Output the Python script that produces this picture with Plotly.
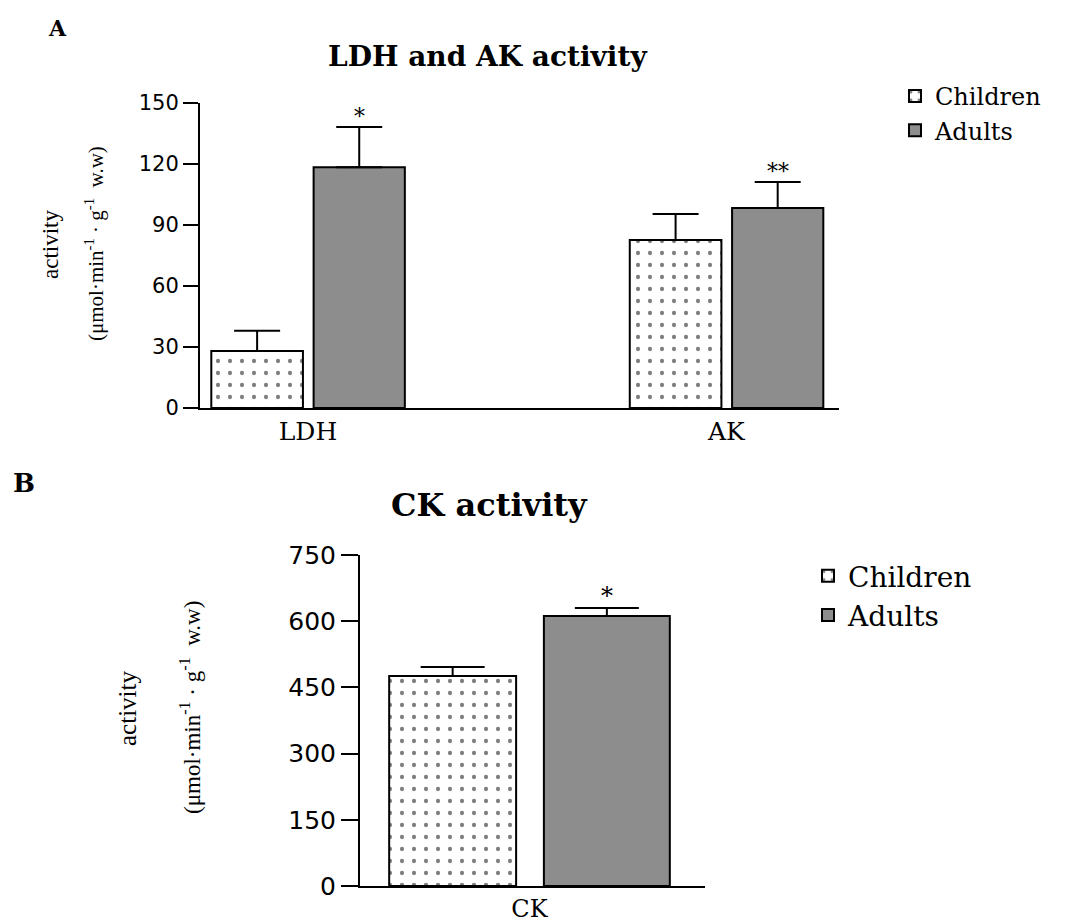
import plotly.graph_objects as go

# ---------------- data ----------------
cats_a = ["LDH", "AK"]
children_a = [28.0, 82.6]
children_a_err = [10.0, 12.8]
adults_a = [118.4, 98.4]
adults_a_err = [19.8, 12.8]
signif_a = ["*", "**"]

cats_b = ["CK"]
children_b = [476.0]
children_b_err = [20.0]
adults_b = [612.0]
adults_b_err = [18.0]
signif_b = ["*"]

yticks_a = [0, 30, 60, 90, 120, 150]
yticks_b = [0, 150, 300, 450, 600, 750]

series_names = ["Children", "Adults"]

# ---------------- style ----------------
W, H = 1070, 924
SERIF = "DejaVu Serif"
SANS = "DejaVu Sans"
GRAY = "#8d8d8d"

def px(x):
    return x / W

def py(y):
    return 1 - y / H

# bar geometry (category units)
a_off = [-0.231, 0.0135]
a_wid = [0.219, 0.218]
b_off = [-0.351, 0.036]
b_wid = [0.3175, 0.315]

fig = go.Figure()

children_style = dict(
    color="white",
    line=dict(color="black", width=2),
    pattern=dict(shape=".", size=12, solidity=0.1, fgcolor="black", bgcolor="white", fillmode="overlay"),
)
adults_style = dict(color=GRAY, line=dict(color="black", width=2))

# Panel A
fig.add_trace(go.Bar(
    x=cats_a, y=children_a, name=series_names[0], marker=children_style,
    offset=a_off[0], width=a_wid[0],
    error_y=dict(type="data", array=children_a_err, arrayminus=[0] * len(cats_a), symmetric=False,
                 color="black", thickness=2, width=23),
    xaxis="x", yaxis="y", legend="legend",
))
fig.add_trace(go.Bar(
    x=cats_a, y=adults_a, name=series_names[1], marker=adults_style,
    offset=a_off[1], width=a_wid[1],
    error_y=dict(type="data", array=adults_a_err, arrayminus=[0] * len(cats_a), symmetric=False,
                 color="black", thickness=2, width=23),
    xaxis="x", yaxis="y", legend="legend",
))

# Panel B
fig.add_trace(go.Bar(
    x=cats_b, y=children_b, name=series_names[0], marker=children_style,
    offset=b_off[0], width=b_wid[0],
    error_y=dict(type="data", array=children_b_err, arrayminus=[0] * len(cats_b), symmetric=False,
                 color="black", thickness=2, width=32),
    xaxis="x2", yaxis="y2", legend="legend2",
))
fig.add_trace(go.Bar(
    x=cats_b, y=adults_b, name=series_names[1], marker=adults_style,
    offset=b_off[1], width=b_wid[1],
    error_y=dict(type="data", array=adults_b_err, arrayminus=[0] * len(cats_b), symmetric=False,
                 color="black", thickness=2, width=32),
    xaxis="x2", yaxis="y2", legend="legend2",
))

annotations = []
# significance marks
for i, c in enumerate(cats_a):
    annotations.append(dict(
        x=i + a_off[1] + a_wid[1] / 2, y=adults_a[i] + adults_a_err[i], xref="x", yref="y",
        text=signif_a[i], showarrow=False, xanchor="center", yanchor="bottom", yshift=-4,
        font=dict(family=SERIF, size=22, color="black")))
for i, c in enumerate(cats_b):
    annotations.append(dict(
        x=i + b_off[1] + b_wid[1] / 2, y=adults_b[i] + adults_b_err[i], xref="x2", yref="y2",
        text=signif_b[i], showarrow=False, xanchor="center", yanchor="bottom", yshift=-4,
        font=dict(family=SERIF, size=24, color="black")))

def label(x, y, text, size, family=SERIF, angle=0):
    return dict(x=px(x), y=py(y), xref="paper", yref="paper", text=text, showarrow=False,
                xanchor="center", yanchor="middle", textangle=angle,
                font=dict(family=family, size=size, color="black"))

# panel letters and titles
annotations += [
    label(57, 28, "<b>A</b>", 22),
    label(24, 483, "<b>B</b>", 26),
    label(487, 57, "<b>LDH and AK activity</b>", 28),
    label(489, 505, "<b>CK activity</b>", 32),
]

# y-axis titles (two lines, rotated)
unit_text = "(μmol·min<sup>-1</sup> · g<sup>-1</sup>  w.w)"
annotations += [
    label(50, 245, "activity", 23, "Liberation Serif", -90),
    label(94, 244, unit_text, 21, "Liberation Serif", -90),
    label(127, 709, "activity", 25, "Liberation Serif", -90),
    label(190, 708, unit_text, 23, "Liberation Serif", -90),
]

common_y = dict(showline=True, linecolor="black", linewidth=2, ticks="outside", tickwidth=2,
                tickcolor="black", showgrid=False, zeroline=False)
common_x = dict(showline=True, linecolor="black", linewidth=2, ticks="", showgrid=False,
                zeroline=False, type="category")

fig.update_layout(
    width=W, height=H,
    margin=dict(l=0, r=0, t=0, b=0),
    template="none",
    paper_bgcolor="white", plot_bgcolor="white",
    barmode="overlay",
    font=dict(family=SERIF, color="black"),
    xaxis=dict(common_x, domain=[px(200), px(839)], range=[-0.258, 1.269], anchor="y",
               tickfont=dict(family=SERIF, size=25, color="black")),
    yaxis=dict(common_y, domain=[py(408), py(103)], range=[0, 150], tickvals=yticks_a,
               ticklen=15, anchor="x", tickfont=dict(family=SANS, size=21, color="black")),
    xaxis2=dict(common_x, domain=[px(360), px(705)], range=[-0.424, 0.439], anchor="y2",
                tickfont=dict(family=SERIF, size=24, color="black")),
    yaxis2=dict(common_y, domain=[py(886), py(555)], range=[0, 750], tickvals=yticks_b,
                ticklen=17, anchor="x2", tickfont=dict(family=SANS, size=25, color="black")),
    legend=dict(x=px(895), y=py(74), xanchor="left", yanchor="top", bgcolor="rgba(0,0,0,0)",
                font=dict(family=SERIF, size=24, color="black"), tracegroupgap=0),
    legend2=dict(x=px(808), y=py(551), xanchor="left", yanchor="top", bgcolor="rgba(0,0,0,0)",
                 font=dict(family=SERIF, size=28, color="black"), tracegroupgap=0),
    annotations=annotations,
    showlegend=True,
)

fig.write_html("out.html", config={"displayModeBar": False},
               post_script="document.body.style.margin='0';document.body.style.overflow='hidden';")
